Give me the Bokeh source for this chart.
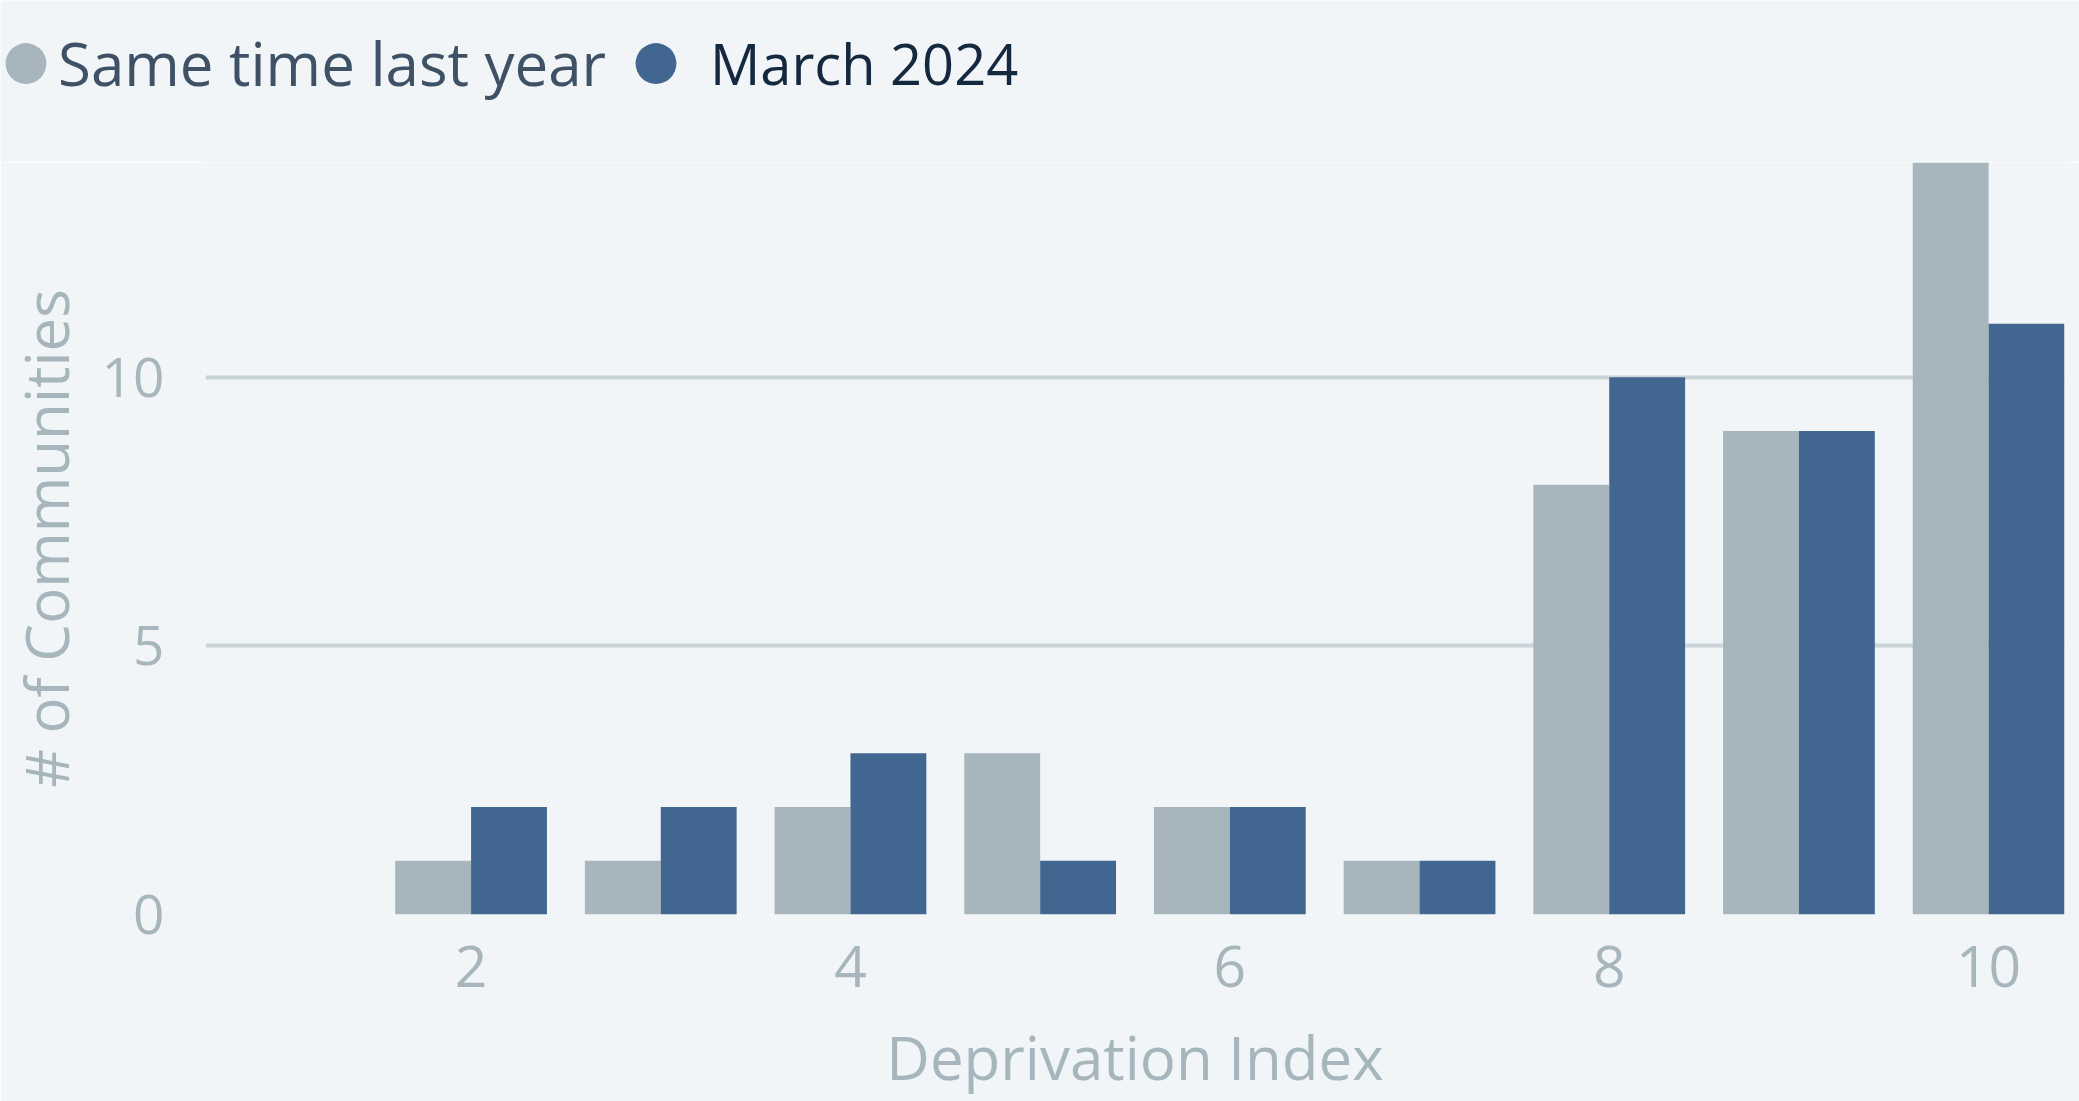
from bokeh.plotting import figure
from bokeh.layouts import column
from bokeh.models import ColumnDataSource, Range1d, FixedTicker, Legend, LegendItem
from bokeh.transform import dodge
from bokeh.embed import file_html
from bokeh.resources import INLINE

# ---- data ----
deprivation_index = [1, 2, 3, 4, 5, 6, 7, 8, 9, 10]
same_time_last_year = [0, 1, 1, 2, 3, 2, 1, 8, 9, 14]
march_2024 = [0, 2, 2, 3, 1, 2, 1, 10, 9, 11]
x_ticks = [2, 4, 6, 8, 10]
y_ticks = [0, 5, 10]
series_names = ["Same time last year", "March 2024"]

GREY = "#A7B5BC"
BLUE = "#41668F"
BG = "#F1F5F8"
GRID = "#C9D3D8"
FONT = "Open Sans"

src = ColumnDataSource(dict(x=deprivation_index, last=same_time_last_year, march=march_2024))

# ---------------- legend strip ----------------
# the strip's ranges keep its proxy marks out of view; only the legend shows
lf = figure(width=2079, height=162, output_backend="svg", toolbar_location=None,
            x_axis_type=None, y_axis_type=None, x_range=Range1d(-20, -10), y_range=Range1d(0, 1),
            min_border_left=0, min_border_right=0, min_border_top=0, min_border_bottom=0,
            background_fill_color=BG, border_fill_color=BG)
lf.frame_align = False
lf.outline_line_color = None
lf.grid.visible = False
r1 = lf.ellipse(x="x", y="last", width=40, height=40, width_units="screen", height_units="screen",
                source=src, fill_color=GREY, line_color=None)
r2 = lf.ellipse(x="x", y="march", width=40, height=40, width_units="screen", height_units="screen",
                source=src, fill_color=BLUE, line_color=None)

for r, name, color, loc, stand, fs in [(r1, series_names[0], "#3E5165", (0, 48), 7, "60px"),
                                       (r2, series_names[1], "#14283E", (630, 48), 29, "56px")]:
    lg = Legend(items=[LegendItem(label=name, renderers=[r])], location=loc,
                glyph_width=51, glyph_height=102, label_standoff=stand,
                padding=0, margin=0, border_line_color=None, background_fill_alpha=0,
                label_text_font=FONT, label_text_font_size=fs, label_text_color=color)
    lf.add_layout(lg, "center")

# ---------------- main chart ----------------
p = figure(width=2079, height=939, output_backend="svg", toolbar_location=None,
           x_range=Range1d(0.6, 10.4), y_range=Range1d(0, 14),
           min_border_left=205, min_border_right=15, min_border_top=0, min_border_bottom=187,
           background_fill_color=BG, border_fill_color=BG)
p.frame_align = False
p.outline_line_color = None

p.vbar(x=dodge("x", -0.2, range=p.x_range), top="last", width=0.4, source=src,
       fill_color=GREY, line_color=None)
p.vbar(x=dodge("x", 0.2, range=p.x_range), top="march", width=0.4, source=src,
       fill_color=BLUE, line_color=None)

p.xaxis.ticker = FixedTicker(ticks=x_ticks)
p.yaxis.ticker = FixedTicker(ticks=y_ticks)
for ax in (p.xaxis, p.yaxis):
    ax.axis_line_color = None
    ax.major_tick_line_color = None
    ax.minor_tick_line_color = None
    ax.major_tick_out = 0
    ax.major_tick_in = 0
    ax.major_label_text_color = GREY
    ax.major_label_text_font = FONT
    ax.axis_label_text_color = GREY
    ax.axis_label_text_font = FONT
    ax.axis_label_text_font_style = "normal"
    ax.axis_label_text_font_size = "60px"

p.xaxis.axis_label = "Deprivation Index"
p.yaxis.axis_label = "# of Communities"
p.xaxis.major_label_text_font_size = "57px"
p.yaxis.major_label_text_font_size = "55px"
p.xaxis.major_label_standoff = 31
p.yaxis.major_label_standoff = 41
p.xaxis.axis_label_standoff = 26
p.yaxis.axis_label_standoff = 12

p.xgrid.grid_line_color = None
p.ygrid.grid_line_color = GRID
p.ygrid.grid_line_width = 4

layout = column(lf, p, spacing=0)
open("out.html", "w").write(file_html(layout, INLINE))
